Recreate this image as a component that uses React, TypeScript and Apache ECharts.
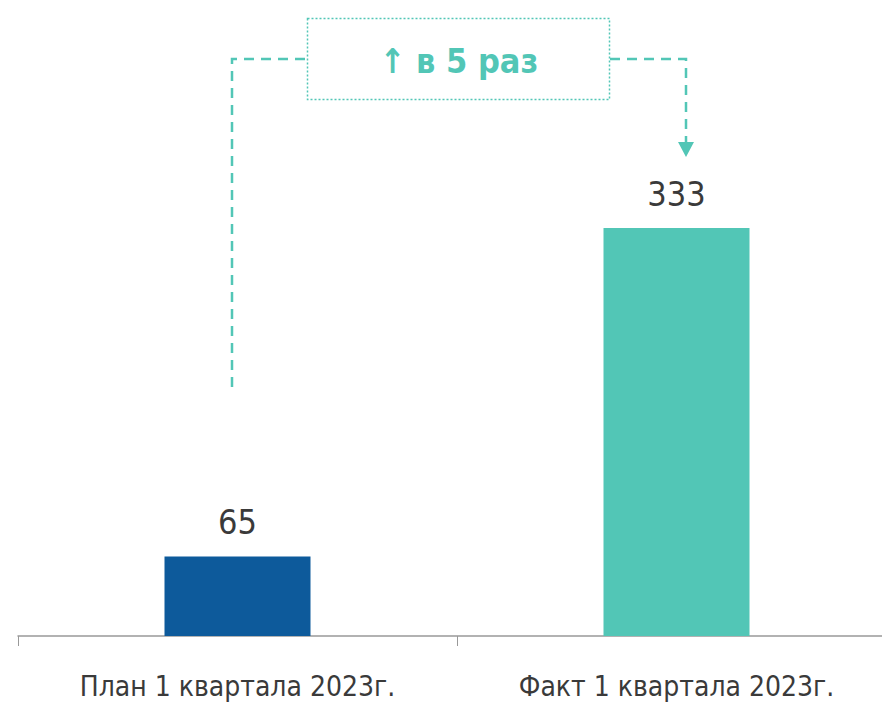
import React, { useEffect, useRef } from "react";
import * as echarts from "echarts";

const categories = ["План 1 квартала 2023г.", "Факт 1 квартала 2023г."];
const values = [65, 333];
const barColors = ["#0d5a9b", "#52c6b6"];
const annotationText = "↑ в 5 раз";

const FONT = "'Liberation Sans Narrow', 'DejaVu Sans Condensed', 'Roboto Condensed', Roboto, sans-serif";
const TEAL = "#52c6b6";

export default function App() {
  const ref = useRef<HTMLDivElement>(null);
  useEffect(() => {
    if (!ref.current) return;
    const chart = echarts.init(ref.current, undefined, { renderer: "svg" });
    const dash = { stroke: TEAL, lineWidth: 2.5, lineDash: [10, 7] };
    chart.setOption({
      animation: false,
      backgroundColor: "#ffffff",
      grid: { left: 18, right: 0, top: 146, bottom: 67, containLabel: false },
      xAxis: {
        type: "category",
        data: categories,
        axisLine: { lineStyle: { color: "#999999", width: 1.5 } },
        axisTick: { show: true, length: 10, lineStyle: { color: "#999999", width: 1 } },
        axisLabel: { color: "#3a3a3a", fontFamily: FONT, fontSize: 28, margin: 36 },
      },
      yAxis: {
        type: "value",
        min: 0,
        max: 400,
        show: false,
        splitLine: { show: false },
      },
      series: [
        {
          type: "bar",
          barWidth: 146,
          data: values.map((v, i) => ({ value: v, itemStyle: { color: barColors[i] } })),
          label: {
            show: true,
            position: "top",
            distance: 17,
            color: "#3a3a3a",
            fontFamily: FONT,
            fontSize: 34,
          },
        },
      ],
      graphic: [
        { type: "polyline", shape: { points: [[232, 387], [232, 59], [307, 59]] }, style: { ...dash, fill: null } },
        { type: "polyline", shape: { points: [[610, 59], [686, 59], [686, 145]] }, style: { ...dash, fill: null } },
        { type: "polygon", shape: { points: [[678, 142], [694, 142], [686, 157]] }, style: { fill: TEAL } },
        {
          type: "rect",
          shape: { x: 307.5, y: 18.5, width: 302, height: 81 },
          style: { fill: null, stroke: TEAL, lineWidth: 1.5, lineDash: [2, 2] },
        },
        {
          type: "text",
          x: 459,
          y: 61,
          style: {
            text: annotationText,
            fill: TEAL,
            font: `bold 34px ${FONT}`,
            align: "center",
            verticalAlign: "middle",
          },
        },
      ],
    });
    return () => chart.dispose();
  }, []);
  return (
    <div style={{ position: "absolute", left: 0, top: 0, width: 882, height: 703, overflow: "hidden" }}>
      <div ref={ref} style={{ width: 896, height: 703 }} />
    </div>
  );
}
